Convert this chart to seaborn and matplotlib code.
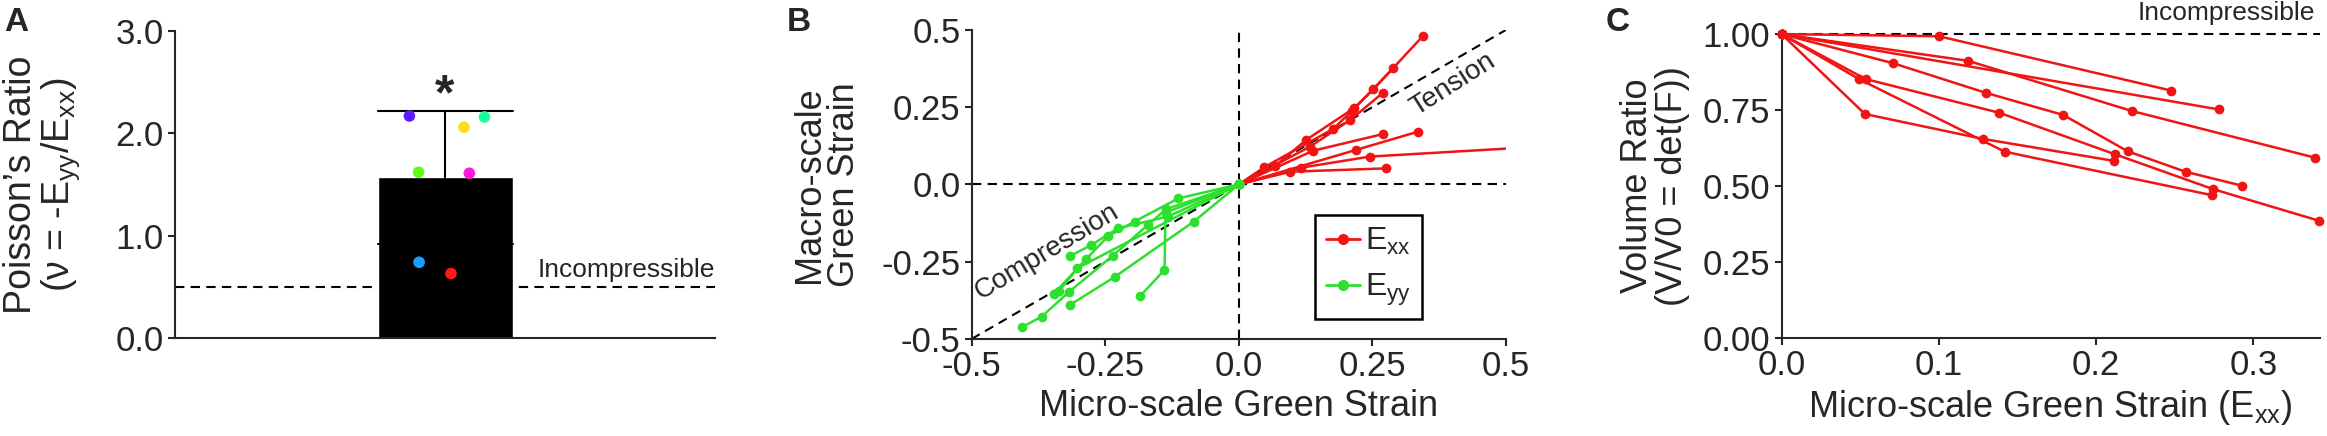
import numpy as np
import pandas as pd
import matplotlib
matplotlib.use("Agg")
import matplotlib.pyplot as plt
from matplotlib.lines import Line2D
import seaborn as sns

# Panel A: Poisson's ratio per sample
poisson = [0.63, 2.06, 1.62, 2.16, 0.74, 2.17, 1.61]
jitter = [0.011, 0.035, -0.049, 0.073, -0.048, -0.066, 0.045]

# Panel B: micro vs macro Green strain, one list per sample
exx_micro = [[0, 0.067, 0.126, 0.216, 0.252, 0.345],
             [0, 0.048, 0.176, 0.211, 0.289],
             [0, 0.133, 0.209, 0.270],
             [0, 0.139, 0.270],
             [0, 0.220, 0.336],
             [0, 0.116, 0.245, 0.62],
             [0, 0.096, 0.276]]
exx_macro = [[0, 0.058, 0.144, 0.247, 0.308, 0.481],
             [0, 0.056, 0.179, 0.236, 0.376],
             [0, 0.122, 0.209, 0.297],
             [0, 0.109, 0.163],
             [0, 0.112, 0.171],
             [0, 0.054, 0.090, 0.128],
             [0, 0.041, 0.052]]
eyy_micro = [[0, -0.084, -0.231, -0.316],
             [0, -0.137, -0.139, -0.184],
             [0, -0.113, -0.195, -0.244, -0.286, -0.346],
             [0, -0.136, -0.170, -0.236, -0.317, -0.369, -0.406],
             [0, -0.133, -0.226, -0.276, -0.315],
             [0, -0.302, -0.336]]
eyy_macro = [[0, -0.120, -0.298, -0.390],
             [0, -0.091, -0.277, -0.360],
             [0, -0.045, -0.120, -0.167, -0.242, -0.354],
             [0, -0.080, -0.131, -0.231, -0.347, -0.428, -0.462],
             [0, -0.104, -0.142, -0.196, -0.231],
             [0, -0.271, -0.345]]

# Panel C: volume ratio vs micro Exx
vol_exx = [[0, 0.100, 0.2478],
           [0, 0.1186, 0.2227, 0.3394],
           [0, 0.278],
           [0, 0.071, 0.1297, 0.179, 0.2202, 0.2568, 0.2928],
           [0, 0.0535, 0.1385, 0.2117, 0.2742, 0.3415],
           [0, 0.053, 0.1281, 0.2111],
           [0, 0.0492, 0.1419, 0.2735]]
vol_ratio = [[1, 0.993, 0.814],
             [1, 0.912, 0.747, 0.593],
             [1, 0.752],
             [1, 0.904, 0.807, 0.734, 0.614, 0.547, 0.501],
             [1, 0.852, 0.741, 0.605, 0.490, 0.386],
             [1, 0.737, 0.655, 0.583],
             [1, 0.852, 0.613, 0.470]]

RED = "#f01414"
GREEN = "#2ee02e"
DASH = (0, (4.5, 3))

sns.set_style("ticks")
plt.rcParams['font.family'] = ['Liberation Sans', 'DejaVu Sans']
plt.rcParams['mathtext.default'] = 'regular'
plt.rcParams['axes.linewidth'] = 1.5

TICK = 25
LAB = 26


def style_axis(ax):
    sns.despine(ax=ax)
    ax.tick_params(direction='out', length=5, width=1.5, labelsize=TICK, pad=3)


def to_long(xs, ys, name):
    rows = []
    for i, (xx, yy) in enumerate(zip(xs, ys)):
        for a, b in zip(xx, yy):
            rows.append({'x': a, 'y': b, 'sample': f"{name}{i}", 'comp': name})
    return pd.DataFrame(rows)


fig = plt.figure(figsize=(23.27, 4.36), dpi=100)

# ---------- A ----------
axA = fig.add_axes([0.0752, 0.2248, 0.2321, 0.704])
dfA = pd.DataFrame({'group': ['all'] * len(poisson), 'nu': poisson})
sns.barplot(data=dfA, x='group', y='nu', errorbar='sd', color='black',
            width=0.25, capsize=0.25, saturation=1, ax=axA,
            err_kws={'linewidth': 1.5, 'color': 'black'})
pal = sns.hls_palette(7, h=0.0, l=0.55, s=1.0)
sns.scatterplot(x=jitter, y=poisson, hue=list(range(7)), palette=pal, s=70,
                linewidth=0, legend=False, zorder=4, ax=axA)
axA.axhline(0.5, color='black', ls=DASH, lw=1.5, zorder=0)
axA.text(0.5, 0.55, "Incompressible", ha='right', va='bottom', fontsize=19)
axA.text(0, 2.36, "*", ha='center', va='center', fontsize=36, fontweight='bold')
axA.set_xlim(-0.5, 0.5)
axA.set_ylim(0, 3.0)
axA.set_yticks([0, 1, 2, 3])
axA.set_yticklabels(["0.0", "1.0", "2.0", "3.0"])
axA.set_xticks([])
axA.set_xlabel("")
axA.set_ylabel("Poisson\u2019s Ratio\n(\u03bd = -E$_{yy}$/E$_{xx}$)", fontsize=LAB + 1, linespacing=1.0)
axA.yaxis.set_label_coords(-0.172, 0.5)
style_axis(axA)

# ---------- B ----------
axB = fig.add_axes([0.4175, 0.2225, 0.2297, 0.709])
dfB = pd.concat([to_long(exx_micro, exx_macro, 'Exx'),
                 to_long(eyy_micro, eyy_macro, 'Eyy')])
axB.plot([-0.5, 0.5], [-0.5, 0.5], color='black', ls=DASH, lw=1.5, zorder=1)
axB.plot([-0.5, 0.5], [0, 0], color='black', ls=DASH, lw=1.5, zorder=1)
axB.plot([0, 0], [-0.5, 0.5], color='black', ls=DASH, lw=1.5, zorder=1)
sns.lineplot(data=dfB, x='x', y='y', hue='comp', units='sample', estimator=None,
             sort=False, palette={'Exx': RED, 'Eyy': GREEN}, marker='o',
             markersize=7, markeredgewidth=0, linewidth=1.8, legend=False,
             zorder=3, ax=axB)
axB.set_xlim(-0.5, 0.5)
axB.set_ylim(-0.5, 0.5)
ticksB = [-0.5, -0.25, 0, 0.25, 0.5]
labsB = ["-0.5", "-0.25", "0.0", "0.25", "0.5"]
axB.set_xticks(ticksB)
axB.set_xticklabels(labsB)
axB.set_yticks(ticksB)
axB.set_yticklabels(labsB)
axB.text(-0.359, -0.217, "Compression", rotation=31, ha='center', va='center',
         fontsize=20, rotation_mode='anchor')
axB.text(0.401, 0.322, "Tension", rotation=32.5, ha='center', va='center',
         fontsize=20, rotation_mode='anchor')
handles = [Line2D([], [], color=RED, marker='o', markersize=8, mew=0, lw=2),
           Line2D([], [], color=GREEN, marker='o', markersize=8, mew=0, lw=2)]
leg = axB.legend(handles, ["E$_{xx}$", "E$_{yy}$"], loc='upper left',
                 bbox_to_anchor=(0.143, -0.099), bbox_transform=axB.transData,
                 fontsize=23, frameon=True, fancybox=False, framealpha=1,
                 handlelength=1.05, handletextpad=0.15, labelspacing=0.45,
                 borderpad=0.35, borderaxespad=0)
leg.get_frame().set_edgecolor('black')
leg.get_frame().set_linewidth(1.8)
axB.set_xlabel("Micro-scale Green Strain", fontsize=LAB)
axB.set_ylabel("Macro-scale\nGreen Strain", fontsize=LAB, linespacing=1.0)
axB.yaxis.set_label_coords(-0.205, 0.5)
style_axis(axB)

# ---------- C ----------
axC = fig.add_axes([0.7656, 0.2248, 0.2312, 0.697])
dfC = to_long(vol_exx, vol_ratio, 'V')
axC.axhline(1.0, color='black', ls=DASH, lw=1.5, zorder=1, clip_on=False)
sns.lineplot(data=dfC, x='x', y='y', units='sample', estimator=None, sort=False,
             color=RED, marker='o', markersize=7, markeredgewidth=0,
             linewidth=1.8, legend=False, zorder=3, ax=axC, clip_on=False)
axC.text(0.339, 1.03, "Incompressible", ha='right', va='bottom', fontsize=19)
axC.set_xlim(0, 0.342)
axC.set_ylim(0, 1.0)
axC.set_xticks([0, 0.1, 0.2, 0.3])
axC.set_xticklabels(["0.0", "0.1", "0.2", "0.3"])
axC.set_yticks([0, 0.25, 0.5, 0.75, 1.0])
axC.set_yticklabels(["0.00", "0.25", "0.50", "0.75", "1.00"])
axC.set_xlabel("Micro-scale Green Strain (E$_{xx}$)", fontsize=LAB)
axC.set_ylabel("Volume Ratio\n(V/V0 = det(F))", fontsize=LAB, linespacing=1.0)
axC.yaxis.set_label_coords(-0.17, 0.5)
style_axis(axC)

for x, s in [(0.002, "A"), (0.338, "B"), (0.690, "C")]:
    fig.text(x, 0.985, s, fontsize=24, fontweight='bold', va='top', ha='left')

fig.savefig("out.png", dpi=100)
